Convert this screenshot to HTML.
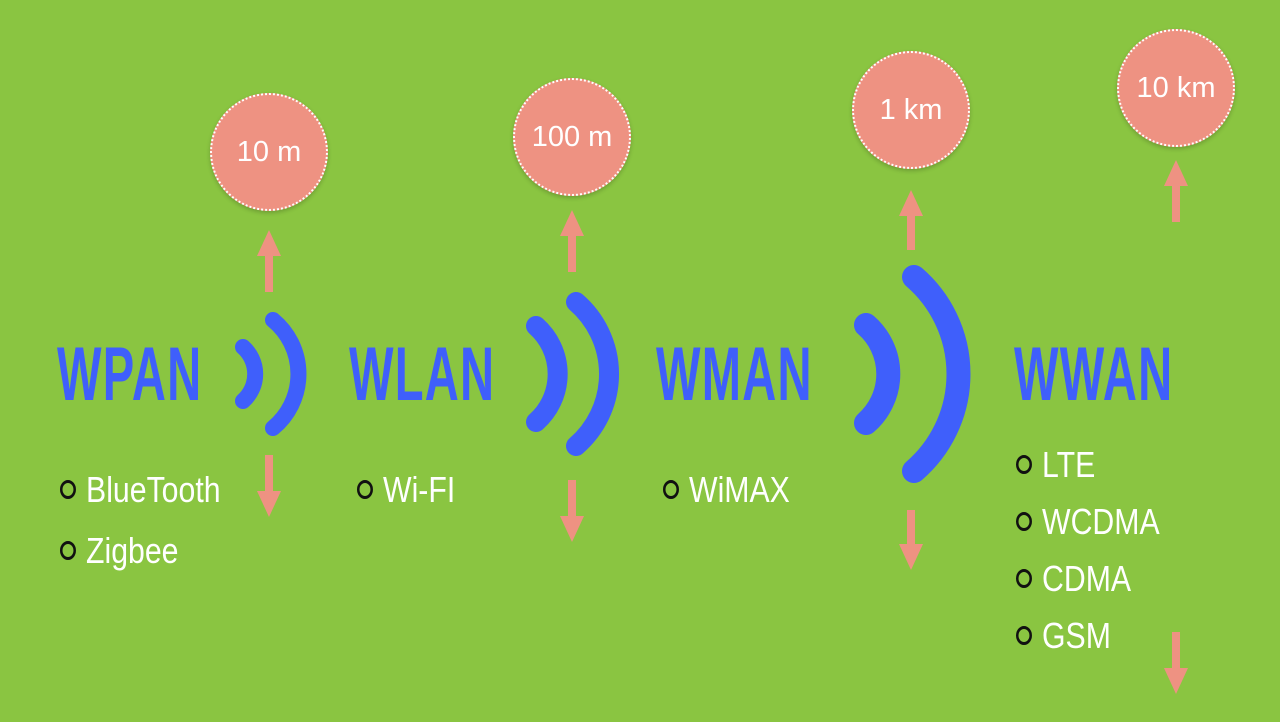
<!DOCTYPE html>
<html><head><meta charset="utf-8"><style>
html,body{margin:0;padding:0}
body{width:1280px;height:722px;background:#8ac541;overflow:hidden;position:relative;font-family:"Liberation Sans Narrow","Liberation Sans",sans-serif}
.c{position:absolute;width:118px;height:118px;border-radius:50%;background:#ee9282;border:2px dotted #fff;box-sizing:border-box;color:#fff;font-size:29px;display:flex;align-items:center;justify-content:center;box-shadow:0 2px 4px rgba(0,0,0,.2)}
.t{position:absolute;color:#3f5ffb;font-weight:bold;font-size:76px;line-height:1;transform:scaleX(.62);transform-origin:left top;letter-spacing:2px}
.b{position:absolute;color:#fff;font-size:36px;line-height:1;transform:scaleX(.84);transform-origin:left top;padding-left:31px}
.b::before{content:"";position:absolute;left:0;top:8px;width:13px;height:13px;border:3.5px solid #111;border-radius:50%}
svg{position:absolute;left:0;top:0}
</style></head><body>
<svg width="1280" height="722">
<g fill="#ee9282">
<rect x="265" y="252" width="8" height="40"/><polygon points="257,256 281,256 269,230"/>
<rect x="265" y="455" width="8" height="40"/><polygon points="257,491 281,491 269,517"/>
<rect x="568" y="232" width="8" height="40"/><polygon points="560,236 584,236 572,210"/>
<rect x="568" y="480" width="8" height="40"/><polygon points="560,516 584,516 572,542"/>
<rect x="907" y="212" width="8" height="38"/><polygon points="899,216 923,216 911,190"/>
<rect x="907" y="510" width="8" height="38"/><polygon points="899,544 923,544 911,570"/>
<rect x="1172" y="182" width="8" height="40"/><polygon points="1164,186 1188,186 1176,160"/>
<rect x="1172" y="632" width="8" height="40"/><polygon points="1164,668 1188,668 1176,694"/>
</g>
<g fill="none" stroke="#3f5ffb" stroke-linecap="round">
<path d="M243,347 A36,36 0 0 1 243,401" stroke-width="16"/>
<path d="M273,320 A70,70 0 0 1 273,428" stroke-width="16"/>
<path d="M536,326 A64,64 0 0 1 536,422" stroke-width="20"/>
<path d="M576,302 A95,95 0 0 1 576,446" stroke-width="20"/>
<path d="M866,325 A65,65 0 0 1 866,423" stroke-width="24"/>
<path d="M914,277 A128,128 0 0 1 914,471" stroke-width="24"/>
</g>
</svg>
<div class="c" style="left:210px;top:93px">10 m</div>
<div class="c" style="left:513px;top:78px">100 m</div>
<div class="c" style="left:852px;top:51px">1 km</div>
<div class="c" style="left:1117px;top:29px">10 km</div>
<div class="t" style="left:57px;top:337px">WPAN</div>
<div class="t" style="left:349px;top:337px">WLAN</div>
<div class="t" style="left:656px;top:337px">WMAN</div>
<div class="t" style="left:1014px;top:337px">WWAN</div>
<div class="b" style="left:60px;top:472px">BlueTooth</div>
<div class="b" style="left:60px;top:533px">Zigbee</div>
<div class="b" style="left:357px;top:472px">Wi-FI</div>
<div class="b" style="left:663px;top:472px">WiMAX</div>
<div class="b" style="left:1016px;top:447px">LTE</div>
<div class="b" style="left:1016px;top:504px">WCDMA</div>
<div class="b" style="left:1016px;top:561px">CDMA</div>
<div class="b" style="left:1016px;top:618px">GSM</div>
</body></html>
